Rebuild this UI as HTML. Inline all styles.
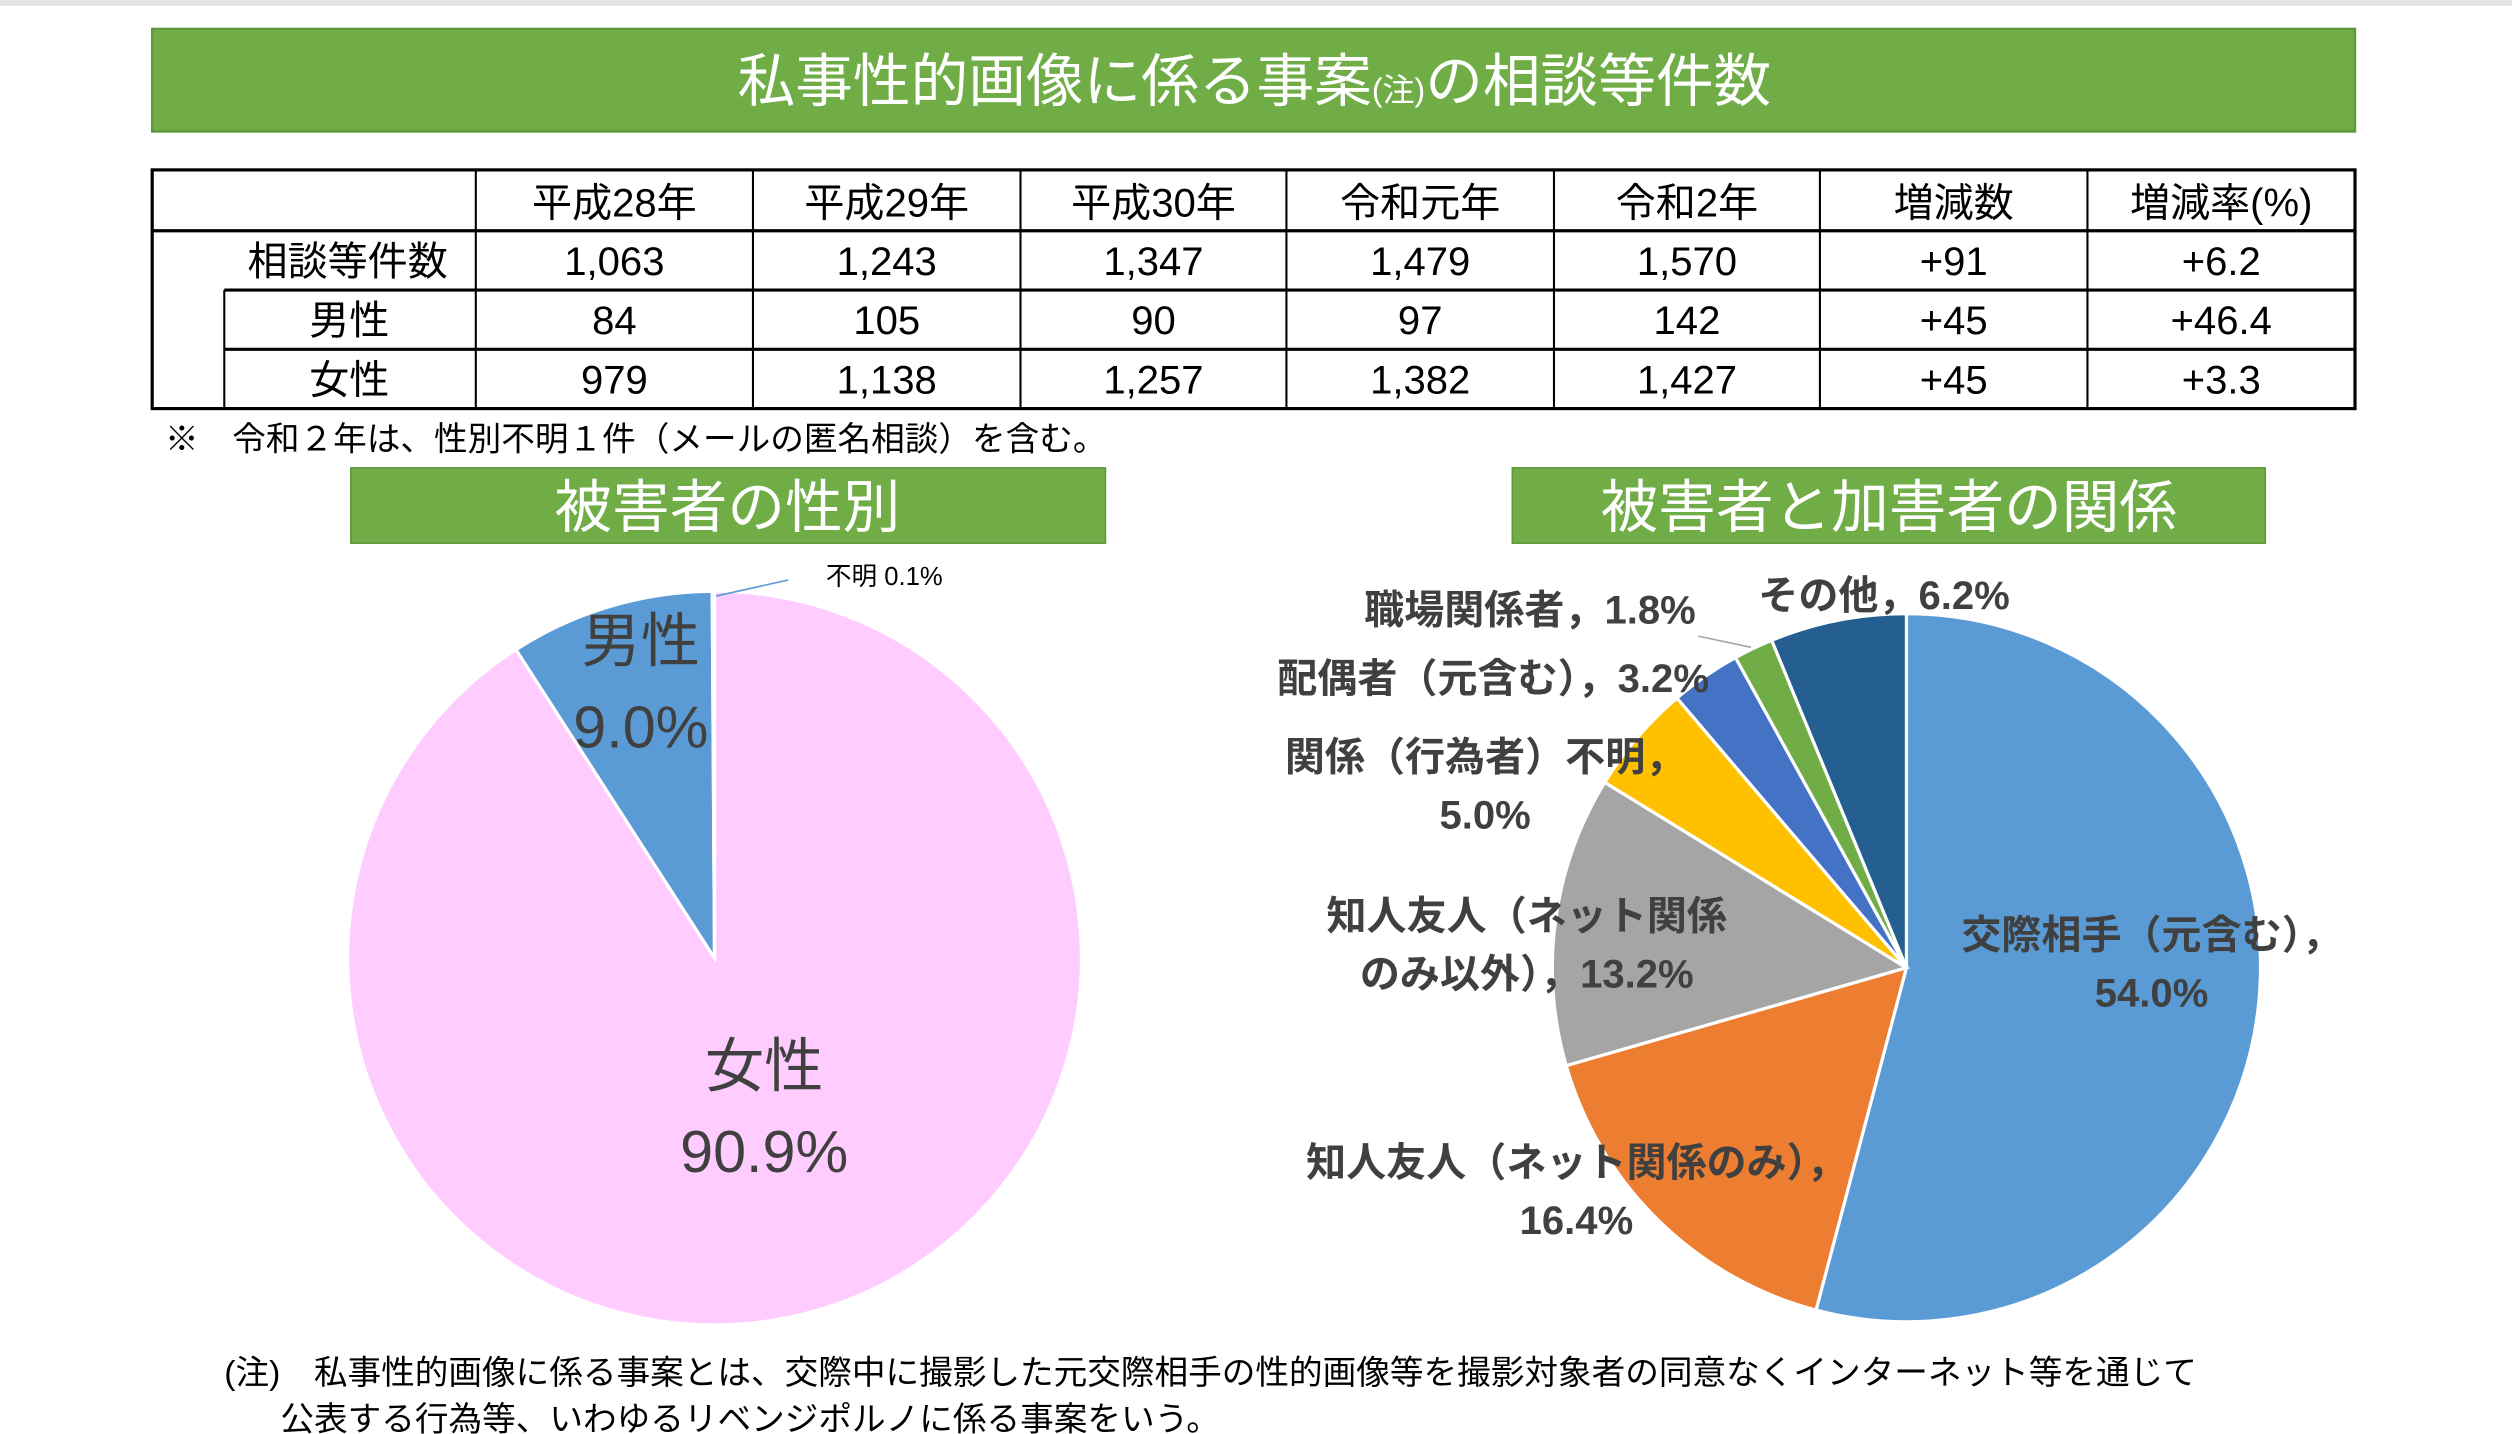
<!DOCTYPE html>
<html><head><meta charset="utf-8"><style>
html,body{margin:0;padding:0;background:#fff;}
svg{display:block;}
text{font-family:"Liberation Sans","Noto Sans CJK JP",sans-serif;}
</style></head><body>
<svg id="root" width="2512" height="1434" viewBox="0 0 1568 895" xmlns="http://www.w3.org/2000/svg">
<rect x="0" y="0" width="1568" height="3.5" fill="#e3e3e3"/>
<g>
<rect x="95" y="18" width="1375" height="64" fill="#70ad47" stroke="#5b9a3a" stroke-width="1.5"/>
<text x="783" y="63" text-anchor="middle" font-size="36" fill="#fff">私事性的画像に係る事案<tspan font-size="20">(注)</tspan>の相談等件数</text>
</g>
<g id="table" font-size="25" fill="#000" text-anchor="middle"></g>
<text x="103" y="281" font-size="21" fill="#000">※　令和２年は、性別不明１件（メールの匿名相談）を含む。</text>
<g>
<rect x="219" y="292" width="471" height="47" fill="#70ad47" stroke="#5b9a3a" stroke-width="1"/>
<text x="454" y="329" text-anchor="middle" font-size="36" fill="#fff">被害者の性別</text>
</g>
<g>
<rect x="944" y="292" width="470" height="47" fill="#70ad47" stroke="#5b9a3a" stroke-width="1"/>
<text x="1179" y="329" text-anchor="middle" font-size="36" fill="#fff">被害者と加害者の関係</text>
</g>
<g id="pie1"></g>
<g id="pie2"></g>
<g font-size="21" fill="#000">
<text x="140" y="864">(注)　私事性的画像に係る事案とは、交際中に撮影した元交際相手の性的画像等を撮影対象者の同意なくインターネット等を通じて</text>
<text x="175" y="893">公表する行為等、いわゆるリベンジポルノに係る事案をいう。</text>
</g>
</svg>
<script>
const tableHeaders=["","平成28年","平成29年","平成30年","令和元年","令和2年","増減数","増減率(%)"];
const rowLabels=["相談等件数","男性","女性"];
const rowTotal=["1,063","1,243","1,347","1,479","1,570","+91","+6.2"];
const rowMale=["84","105","90","97","142","+45","+46.4"];
const rowFemale=["979","1,138","1,257","1,382","1,427","+45","+3.3"];

const genderLabels=["女性","男性","不明"];
const genderValues=[90.9,9.0,0.1];
const genderColors=["#ffccff","#5b9bd5","#5b9bd5"];

const relLabels=["交際相手（元含む）","知人友人（ネット関係のみ）","知人友人（ネット関係のみ以外）","関係（行為者）不明","配偶者（元含む）","職場関係者","その他"];
const relValues=[54.0,16.4,13.2,5.0,3.2,1.8,6.2];
const relColors=["#5b9bd5","#ed7d31","#a5a5a5","#ffc000","#4472c4","#70ad47","#255e91"];

const NS="http://www.w3.org/2000/svg";
function mk(tag,attrs,parent){const e=document.createElementNS(NS,tag);for(const k in attrs)e.setAttribute(k,attrs[k]);parent.appendChild(e);return e;}

// table
const tb=document.getElementById('table');
const colX=[95,297,470,637,803,970,1136,1303,1470];
const rowY=[106,144,181,218,255];
const rows=[rowTotal,rowMale,rowFemale];
mk('rect',{x:95,y:106,width:1375,height:149,fill:'none',stroke:'#000','stroke-width':2},tb);
for(let i=1;i<4;i++){const l=mk('line',{x1:i===1?95:140,x2:1470,y1:rowY[i],y2:rowY[i],stroke:'#000','stroke-width':2},tb);}
for(let j=1;j<8;j++){mk('line',{x1:colX[j],x2:colX[j],y1:106,y2:255,stroke:'#000','stroke-width':1.3},tb);}
mk('line',{x1:140,x2:140,y1:181,y2:255,stroke:'#000','stroke-width':1.3},tb);
for(let j=1;j<8;j++){
  const t=mk('text',{x:(colX[j]+colX[j+1])/2,y:135},tb);t.textContent=tableHeaders[j];
  
  
}
rows.forEach((r,i)=>{
  const cy=(rowY[i+1]+rowY[i+2])/2+9;
  const lx=i===0?217:218;
  const lt=mk('text',{x:lx,y:cy},tb);lt.textContent=rowLabels[i];
  
  
  r.forEach((v,j)=>{
    const t=mk('text',{x:(colX[j+1]+colX[j+2])/2,y:cy},tb);t.textContent=v;
    
    
  });
});

function drawPie(g,values,colors,cx,cy,r){
  const total=values.reduce((a,b)=>a+b,0);
  let a0=0;
  values.forEach((v,i)=>{
    const a1=a0+v/total*Math.PI*2;
    const p=(a)=>[cx+r*Math.sin(a),cy-r*Math.cos(a)];
    const s=p(a0),e=p(a1);
    const large=(a1-a0)>Math.PI?1:0;
    const path=mk('path',{d:`M${cx},${cy} L${s[0]},${s[1]} A${r},${r} 0 ${large} 1 ${e[0]},${e[1]} Z`,fill:colors[i],stroke:'#fff','stroke-width':2},g);
    
    
    a0=a1;
  });
}
const p1=document.getElementById('pie1');
drawPie(p1,genderValues,genderColors,446,598,229);
const p2=document.getElementById('pie2');
drawPie(p2,relValues,relColors,1190,604,221);

function label(g,x,y,lines,size,weight,fill){
  const t=mk('text',{x:x,y:y,'text-anchor':'middle','font-size':size,'font-weight':weight,fill:fill},g);
  lines.forEach((l,i)=>{const ts=mk('tspan',{x:x,dy:i===0?0:size*1.45},t);ts.textContent=l;});
  
  
  return t;
}
label(p1,400,413,[genderLabels[1],genderValues[1].toFixed(1)+"%"],37,'normal','#404040');
label(p1,477,678,[genderLabels[0],genderValues[0].toFixed(1)+"%"],37,'normal','#404040');
mk('line',{x1:447,y1:372,x2:492,y2:362,stroke:'#5b9bd5','stroke-width':1},p1);
label(p1,552,365,[genderLabels[2]+"  "+genderValues[2].toFixed(1)+"%"],16,'normal','#000');

const B='#404040',F=25;
label(p2,1343,592,[relLabels[0].replace(/）$/,"），"),relValues[0].toFixed(1)+"%"],F,'bold',B);
label(p2,984,734,["知人友人（ネット関係のみ），",relValues[1].toFixed(1)+"%"],F,'bold',B);
label(p2,953,580,["知人友人（ネット関係","のみ以外），"+relValues[2].toFixed(1)+"%"],F,'bold',B);
label(p2,927,481,["関係（行為者）不明，",relValues[3].toFixed(1)+"%"],F,'bold',B);
label(p2,932,432,[relLabels[4]+"，"+relValues[4].toFixed(1)+"%"],F,'bold',B);
label(p2,955,389,[relLabels[5]+"，"+relValues[5].toFixed(1)+"%"],F,'bold',B);
label(p2,1176,380,[relLabels[6]+"，"+relValues[6].toFixed(1)+"%"],F,'bold',B);
mk('line',{x1:1060,y1:397,x2:1093,y2:404,stroke:'#a5a5a5','stroke-width':1},p2);
</script>
</body></html>
